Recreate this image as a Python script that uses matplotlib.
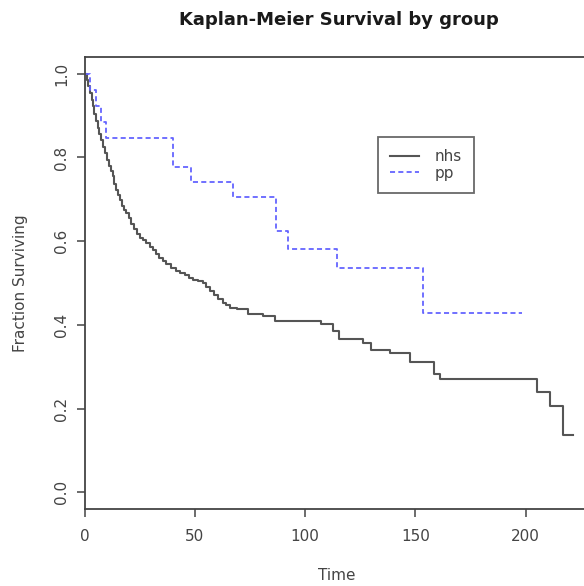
import matplotlib
matplotlib.use('Agg')
import matplotlib.pyplot as plt

# Kaplan-Meier step values
nhs_time = [0, 1.0, 1.8, 2.5, 3.2, 3.8, 4.5, 5.2, 6.0, 6.8, 7.6, 8.4, 9.1, 10.2, 11.3,
            12.1, 12.9, 13.6, 14.4, 15.2, 15.9, 17.0, 18.0, 18.9, 20.0, 21.2, 22.5,
            23.8, 25.0, 26.5, 28.0, 29.5, 31.0, 32.5, 34.0, 35.5, 37.0, 39.0, 41.6,
            43.5, 45.5, 47.5, 49.2, 51.5, 53.7, 55.2, 56.7, 58.5, 60.5, 62.8, 64.3,
            65.8, 69.0, 74.0, 81.0, 86.2, 107.4, 112.7, 115.5, 126.3, 129.8, 138.4,
            147.5, 158.4, 161.4, 205.3, 211.0, 216.8, 221.5]
nhs_surv = [1.0, 0.985, 0.970, 0.955, 0.938, 0.922, 0.905, 0.888, 0.870, 0.855, 0.842,
            0.826, 0.811, 0.795, 0.779, 0.767, 0.755, 0.737, 0.723, 0.711, 0.699, 0.685,
            0.675, 0.668, 0.655, 0.642, 0.630, 0.618, 0.608, 0.602, 0.596, 0.586, 0.578,
            0.569, 0.560, 0.553, 0.545, 0.537, 0.528, 0.523, 0.518, 0.513, 0.508, 0.504,
            0.500, 0.490, 0.480, 0.471, 0.462, 0.453, 0.447, 0.441, 0.437, 0.425, 0.421,
            0.409, 0.401, 0.385, 0.367, 0.357, 0.340, 0.333, 0.312, 0.282, 0.270, 0.239,
            0.206, 0.136, 0.136]

pp_time = [0, 2.7, 5.0, 7.6, 9.8, 40.1, 48.1, 67.3, 87.0, 92.3, 114.5, 153.6, 198.2]
pp_surv = [1.0, 0.962, 0.923, 0.885, 0.846, 0.778, 0.741, 0.706, 0.624, 0.582, 0.537,
           0.429, 0.429]

x_ticks = [0, 50, 100, 150, 200]
y_ticks = [0.0, 0.2, 0.4, 0.6, 0.8, 1.0]

ink = '#444444'
plt.rcParams['font.family'] = ['DejaVu Sans']

fig = plt.figure(figsize=(5.84, 5.86), dpi=100)
ax = fig.add_axes([84.5 / 584, 77 / 586, 505 / 584, 452 / 586])

ax.step(nhs_time, nhs_surv, where='post', color='#555555', lw=1.5, label='nhs')
ax.step(pp_time, pp_surv, where='post', color='#6464ff', lw=1.3,
        dashes=(2.8, 1.8), label='pp')

ax.set_xlim(0, 229)
ax.set_ylim(-0.04, 1.04)
ax.set_xticks(x_ticks)
ax.set_yticks(y_ticks)
ax.set_xticklabels([str(v) for v in x_ticks])
ax.set_yticklabels([f'{v:.1f}' for v in y_ticks])

for s in ax.spines.values():
    s.set_color(ink)
    s.set_linewidth(1.3)

ax.tick_params(axis='both', direction='out', length=6, width=1.1, color=ink,
               labelcolor=ink, labelsize=11)
ax.tick_params(axis='x', pad=8.5)
ax.tick_params(axis='y', pad=5, labelrotation=90)
for lab in ax.get_yticklabels():
    lab.set_va('center')

ax.set_xlabel('Time', fontsize=11, color=ink, va='center')
ax.xaxis.set_label_coords(0.5, (509 - 575) / 452)
ax.set_ylabel('Fraction Surviving', fontsize=11, color=ink, va='center')
ax.yaxis.set_label_coords((21 - 84.5) / 505, 0.5)

fig.text(339 / 584, 1 - 20 / 586, 'Kaplan-Meier Survival by group',
         ha='center', va='center', fontsize=13, fontweight='bold', color='#1a1a1a')

leg = ax.legend(loc='upper left', bbox_to_anchor=(378 / 584, 1 - 137 / 586),
                bbox_transform=fig.transFigure, borderaxespad=0, fontsize=11,
                frameon=True, fancybox=False, handlelength=1.9, handletextpad=1.0,
                borderpad=0.8, labelspacing=0.1)
leg.get_frame().set_edgecolor(ink)
leg.get_frame().set_linewidth(1.3)
for t in leg.get_texts():
    t.set_color(ink)

fig.savefig('out.png', dpi=100, facecolor='white')
